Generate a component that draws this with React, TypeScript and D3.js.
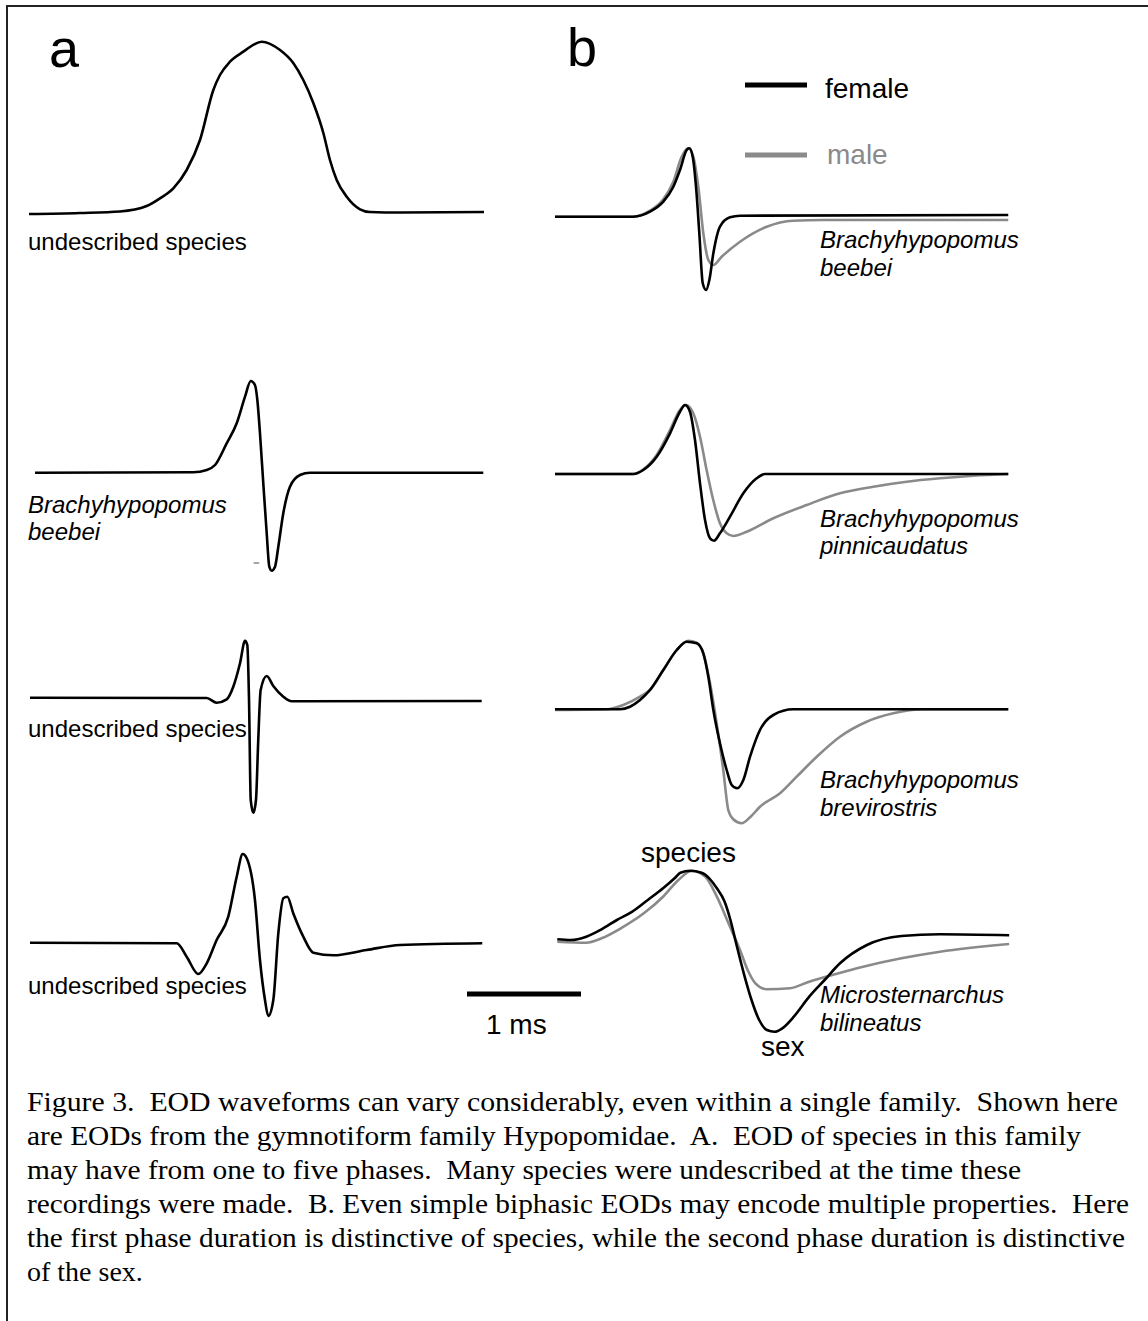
import React from "react";
import * as d3 from "d3";

// ---------- DATA (time in ms from the trace start, amplitude in arbitrary units) ----------
// Panel a
const A1_T = [0, 0.447, 0.798, 1.032, 1.149, 1.266, 1.383, 1.5, 1.617, 1.675, 1.763, 1.88, 2.041, 2.202, 2.318, 2.406, 2.494, 2.582, 2.64, 2.699, 2.787, 2.904, 2.991, 3.254, 3.991];
const A1_V = [-0.01, 0, 0.015, 0.07, 0.147, 0.247, 0.43, 0.73, 1.23, 1.38, 1.513, 1.613, 1.713, 1.63, 1.5, 1.33, 1.1, 0.8, 0.53, 0.33, 0.163, 0.037, 0.01, 0.005, 0.01];

const A2_T = [0.053, 1.441, 1.559, 1.632, 1.734, 1.822, 1.895, 1.945, 1.982, 2.003, 2.026, 2.055, 2.085, 2.108, 2.129, 2.158, 2.187, 2.231, 2.289, 2.377, 2.465, 3.985];
const A2_V = [0.003, 0.007, 0.03, 0.08, 0.297, 0.497, 0.763, 0.92, 0.88, 0.73, 0.4, -0.1, -0.6, -0.937, -0.977, -0.937, -0.737, -0.4, -0.137, -0.02, 0.003, 0.003];

const A3_T = [0.009, 1.559, 1.646, 1.734, 1.792, 1.851, 1.895, 1.915, 1.93, 1.945, 1.968, 1.991, 2.011, 2.032, 2.085, 2.143, 2.231, 2.304, 3.971];
const A3_V = [0.003, 0, -0.047, -0.013, 0.113, 0.347, 0.573, 0.53, -0.02, -1.02, -1.147, -1.02, -0.42, 0.08, 0.22, 0.12, 0.013, -0.033, -0.03];

const A4_T = [0.009, 1.296, 1.383, 1.485, 1.559, 1.646, 1.748, 1.822, 1.875, 1.91, 1.982, 2.026, 2.07, 2.099, 2.143, 2.187, 2.231, 2.266, 2.318, 2.406, 2.494, 2.669, 2.962, 3.254, 3.976];
const A4_V = [0.003, -0.003, -0.137, -0.31, -0.203, 0.03, 0.263, 0.663, 0.89, 0.847, 0.43, -0.17, -0.57, -0.73, -0.57, 0.097, 0.447, 0.463, 0.297, 0.063, -0.097, -0.123, -0.07, -0.02, -0.003];

// Panel b — female
const B1F_T = [0, 0.687, 0.833, 0.95, 1.038, 1.096, 1.155, 1.178, 1.208, 1.237, 1.266, 1.296, 1.325, 1.354, 1.389, 1.447, 1.535, 1.623, 3.976];
const B1F_V = [0, 0, 0.05, 0.15, 0.3, 0.467, 0.667, 0.684, 0.6, 0.3, -0.166, -0.666, -0.733, -0.633, -0.366, -0.1, -0.006, 0.01, 0.017];
const B2F_T = [0, 0.687, 0.775, 0.892, 1.009, 1.096, 1.14, 1.184, 1.228, 1.272, 1.316, 1.36, 1.395, 1.447, 1.535, 1.652, 1.769, 1.842, 3.976];
const B2F_V = [0, 0, 0.04, 0.173, 0.407, 0.623, 0.69, 0.623, 0.34, -0.093, -0.46, -0.643, -0.667, -0.593, -0.427, -0.193, -0.043, 0, 0];
const B3F_T = [0, 0.57, 0.658, 0.746, 0.833, 0.95, 1.068, 1.155, 1.243, 1.301, 1.345, 1.389, 1.447, 1.506, 1.55, 1.599, 1.652, 1.711, 1.798, 1.915, 2.09, 3.976];
const B3F_V = [0, 0, 0.026, 0.093, 0.193, 0.393, 0.593, 0.676, 0.66, 0.56, 0.326, -0.007, -0.34, -0.607, -0.757, -0.79, -0.707, -0.474, -0.207, -0.057, 0, 0];
const B4F_T = [0.02, 0.139, 0.274, 0.408, 0.543, 0.678, 0.814, 0.948, 1.049, 1.1, 1.184, 1.285, 1.353, 1.42, 1.488, 1.539, 1.589, 1.656, 1.724, 1.791, 1.859, 1.926, 1.994, 2.095, 2.23, 2.365, 2.5, 2.736, 3.039, 3.377, 3.984];
const B4F_V = [0.007, 0, 0.033, 0.107, 0.2, 0.283, 0.4, 0.517, 0.617, 0.673, 0.693, 0.673, 0.617, 0.517, 0.383, 0.2, -0.033, -0.333, -0.6, -0.8, -0.9, -0.917, -0.883, -0.767, -0.567, -0.4, -0.233, -0.05, 0.04, 0.057, 0.047];

// Panel b — male
const B1M_T = [0, 0.687, 0.833, 0.95, 1.038, 1.111, 1.169, 1.213, 1.257, 1.301, 1.345, 1.389, 1.462, 1.623, 1.857, 2.09, 2.354, 3.976];
const B1M_V = [0, 0, 0.06, 0.174, 0.35, 0.6, 0.684, 0.6, 0.3, -0.166, -0.433, -0.483, -0.4, -0.25, -0.1, -0.04, -0.033, -0.033];
const B2M_T = [0, 0.687, 0.775, 0.892, 1.009, 1.096, 1.149, 1.213, 1.272, 1.33, 1.388, 1.447, 1.506, 1.564, 1.682, 1.915, 2.208, 2.5, 2.792, 3.085, 3.377, 3.669, 3.976];
const B2M_V = [0, 0, 0.047, 0.19, 0.44, 0.64, 0.69, 0.607, 0.373, 0.04, -0.26, -0.493, -0.593, -0.62, -0.577, -0.443, -0.31, -0.193, -0.127, -0.077, -0.043, -0.017, 0];
const B3M_T = [0, 0.454, 0.599, 0.746, 0.833, 0.95, 1.068, 1.17, 1.243, 1.301, 1.36, 1.418, 1.476, 1.52, 1.564, 1.638, 1.711, 1.798, 1.974, 2.12, 2.296, 2.5, 2.734, 2.968, 3.231, 3.976];
const B3M_V = [-0.007, 0, 0.043, 0.126, 0.193, 0.393, 0.593, 0.686, 0.666, 0.56, 0.26, -0.14, -0.607, -1.007, -1.1, -1.14, -1.08, -0.974, -0.84, -0.674, -0.474, -0.274, -0.124, -0.04, 0, 0];
const B4M_T = [0.02, 0.274, 0.408, 0.577, 0.779, 0.948, 1.083, 1.201, 1.319, 1.42, 1.522, 1.623, 1.69, 1.758, 1.859, 2.061, 2.23, 2.432, 2.703, 3.039, 3.377, 3.984];
const B4M_V = [-0.017, -0.027, 0.017, 0.117, 0.267, 0.433, 0.6, 0.693, 0.633, 0.433, 0.167, -0.1, -0.3, -0.433, -0.493, -0.483, -0.417, -0.35, -0.267, -0.183, -0.117, -0.04];

// Labels
const A_LABELS = [["undescribed species"], ["Brachyhypopomus", "beebei"], ["undescribed species"], ["undescribed species"]];
const A_ITALIC = [false, true, false, false];
const B_LABELS = [["Brachyhypopomus", "beebei"], ["Brachyhypopomus", "pinnicaudatus"], ["Brachyhypopomus", "brevirostris"], ["Microsternarchus", "bilineatus"]];
const LEGEND = ["female", "male"];
const SCALE_BAR_MS = 1;
const CAPTION = [
  "Figure 3.  EOD waveforms can vary considerably, even within a single family.  Shown here",
  "are EODs from the gymnotiform family Hypopomidae.  A.  EOD of species in this family",
  "may have from one to five phases.  Many species were undescribed at the time these",
  "recordings were made.  B. Even simple biphasic EODs may encode multiple properties.  Here",
  "the first phase duration is distinctive of species, while the second phase duration is distinctive",
  "of the sex.",
];
const CAPTION_WIDTHS = [1091, 1054, 994, 1102, 1098, 0];

// ---------- LAYOUT ----------
const W = 1148, H = 1321;
const GRAY = "#8a8a8a";
const SANS = "'Liberation Sans', Arial, Helvetica, sans-serif";
const SERIF = "'Liberation Serif', 'Times New Roman', serif";

const xScale = d3.scaleLinear().domain([0, 4]).range([0, 456]);
const yScale = d3.scaleLinear().domain([-1, 1]).range([100, -100]);
const line = d3
  .line<[number, number]>()
  .x((d) => xScale(d[0]))
  .y((d) => yScale(d[1]))
  .curve(d3.curveMonotoneX);

const pts = (t: number[], v: number[]) => d3.zip(t, v) as [number, number][];

const A_X0 = 29;
const B_X0 = 555;
const A_BASE = [213, 473, 698, 943];
const B_BASE = [216.7, 474, 709.3, 940];

const A_WAVES = [pts(A1_T, A1_V), pts(A2_T, A2_V), pts(A3_T, A3_V), pts(A4_T, A4_V)];
const B_FEMALE = [pts(B1F_T, B1F_V), pts(B2F_T, B2F_V), pts(B3F_T, B3F_V), pts(B4F_T, B4F_V)];
const B_MALE = [pts(B1M_T, B1M_V), pts(B2M_T, B2M_V), pts(B3M_T, B3M_V), pts(B4M_T, B4M_V)];

const A_LABEL_Y = [250, 513, 737, 994];
const B_LABEL_Y = [248, 526.7, 788.3, 1003];

export default function App() {
  return (
    <svg
      width={W}
      height={H}
      viewBox={`0 0 ${W} ${H}`}
      style={{ position: "absolute", left: 0, top: 0, display: "block", background: "#fff" }}
    >
      <rect x={0} y={0} width={W} height={H} fill="#fff" />
      {/* frame */}
      <line x1={7} y1={6} x2={W} y2={6} stroke="#222" strokeWidth={2} />
      <line x1={7} y1={5} x2={7} y2={H} stroke="#222" strokeWidth={2} />

      {/* panel letters */}
      <text x={49} y={67} fontFamily={SANS} fontSize={54}>a</text>
      <text x={567} y={66} fontFamily={SANS} fontSize={54}>b</text>

      {/* panel a */}
      {A_WAVES.map((w, i) => (
        <g key={"a" + i} transform={`translate(${A_X0},${A_BASE[i]})`}>
          <path d={line(w) || ""} fill="none" stroke="#000" strokeWidth={2.6} strokeLinejoin="round" />
        </g>
      ))}
      {/* small stray tick beside trace a2 */}
      <g transform={`translate(${A_X0},${A_BASE[1]})`}>
        <line x1={xScale(1.97)} x2={xScale(2.02)} y1={yScale(-0.9)} y2={yScale(-0.9)} stroke={GRAY} strokeWidth={1.5} />
      </g>
      {A_LABELS.map((lines, i) => (
        <text key={"al" + i} x={28} y={A_LABEL_Y[i]} fontFamily={SANS} fontSize={24} fontStyle={A_ITALIC[i] ? "italic" : "normal"}>
          {lines.map((s, j) => (
            <tspan key={j} x={28} dy={j === 0 ? 0 : 27}>{s}</tspan>
          ))}
        </text>
      ))}

      {/* panel b */}
      {B_MALE.map((w, i) => (
        <g key={"bm" + i} transform={`translate(${B_X0},${B_BASE[i]})`}>
          <path d={line(w) || ""} fill="none" stroke={GRAY} strokeWidth={2.6} strokeLinejoin="round" />
        </g>
      ))}
      {B_FEMALE.map((w, i) => (
        <g key={"bf" + i} transform={`translate(${B_X0},${B_BASE[i]})`}>
          <path d={line(w) || ""} fill="none" stroke="#000" strokeWidth={2.6} strokeLinejoin="round" />
        </g>
      ))}
      {B_LABELS.map((lines, i) => (
        <text key={"bl" + i} x={820} y={B_LABEL_Y[i]} fontFamily={SANS} fontSize={24} fontStyle="italic">
          {lines.map((s, j) => (
            <tspan key={j} x={820} dy={j === 0 ? 0 : 27.5}>{s}</tspan>
          ))}
        </text>
      ))}

      {/* legend */}
      <line x1={745} x2={807} y1={85} y2={85} stroke="#000" strokeWidth={5} />
      <text x={825} y={98} fontFamily={SANS} fontSize={28} fill="#000">{LEGEND[0]}</text>
      <line x1={745} x2={807} y1={155} y2={155} stroke={GRAY} strokeWidth={5} />
      <text x={827} y={164} fontFamily={SANS} fontSize={28} fill={GRAY}>{LEGEND[1]}</text>

      {/* annotations */}
      <text x={641} y={862} fontFamily={SANS} fontSize={28}>species</text>
      <text x={761} y={1056} fontFamily={SANS} fontSize={28}>sex</text>

      {/* scale bar */}
      <line x1={467} x2={467 + xScale(SCALE_BAR_MS)} y1={994} y2={994} stroke="#000" strokeWidth={5} />
      <text x={486} y={1034} fontFamily={SANS} fontSize={28}>{`${SCALE_BAR_MS} ms`}</text>

      {/* caption */}
      {CAPTION.map((s, i) => (
        <text
          key={"c" + i}
          x={27}
          y={1111 + i * 34}
          fontFamily={SERIF}
          fontSize={28}
          style={{ whiteSpace: "pre" }}
          {...(CAPTION_WIDTHS[i] ? { textLength: CAPTION_WIDTHS[i], lengthAdjust: "spacingAndGlyphs" } : {})}
        >
          {s}
        </text>
      ))}
    </svg>
  );
}
